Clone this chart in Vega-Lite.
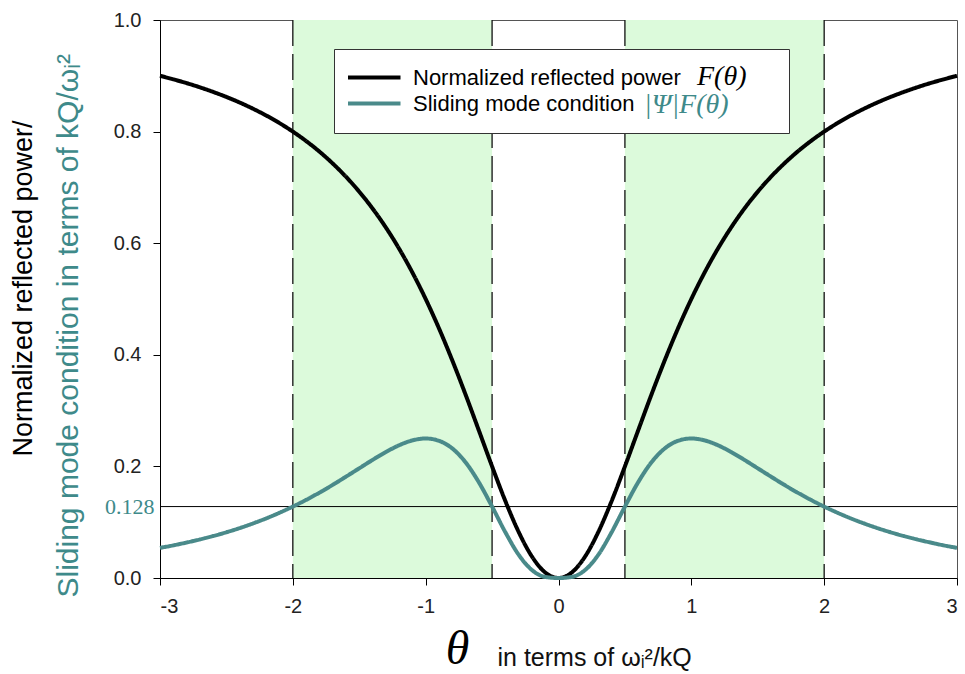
{
  "$schema": "https://vega.github.io/schema/vega-lite/v6.json",
  "width": 797,
  "height": 558,
  "autosize": {"type": "none"},
  "padding": {"left": 160, "top": 20, "right": 8, "bottom": 96},
  "background": "white",
  "config": {
    "view": {"stroke": "#555", "strokeWidth": 1},
    "axis": {
      "grid": false,
      "domainColor": "#000",
      "tickColor": "#000",
      "tickSize": 7,
      "labelFont": "Liberation Sans",
      "labelFontSize": 20,
      "labelColor": "#222",
      "titleFontWeight": "normal"
    }
  },
  "datasets": {
    "curves": [
      {"t": -3.0, "F": 0.9000, "G": 0.0540},
      {"t": -2.9, "F": 0.8937, "G": 0.0585},
      {"t": -2.8, "F": 0.8869, "G": 0.0636},
      {"t": -2.7, "F": 0.8794, "G": 0.0691},
      {"t": -2.6, "F": 0.8711, "G": 0.0752},
      {"t": -2.5, "F": 0.8621, "G": 0.0820},
      {"t": -2.4, "F": 0.8521, "G": 0.0895},
      {"t": -2.3, "F": 0.8410, "G": 0.0978},
      {"t": -2.2, "F": 0.8288, "G": 0.1069},
      {"t": -2.1, "F": 0.8152, "G": 0.1170},
      {"t": -2.0, "F": 0.8000, "G": 0.1280},
      {"t": -1.9, "F": 0.7831, "G": 0.1400},
      {"t": -1.8, "F": 0.7642, "G": 0.1530},
      {"t": -1.7, "F": 0.7429, "G": 0.1669},
      {"t": -1.6, "F": 0.7191, "G": 0.1816},
      {"t": -1.5, "F": 0.6923, "G": 0.1966},
      {"t": -1.4, "F": 0.6622, "G": 0.2116},
      {"t": -1.3, "F": 0.6283, "G": 0.2257},
      {"t": -1.2, "F": 0.5902, "G": 0.2379},
      {"t": -1.1, "F": 0.5475, "G": 0.2466},
      {"t": -1.0, "F": 0.5000, "G": 0.2500},
      {"t": -0.9, "F": 0.4475, "G": 0.2459},
      {"t": -0.8, "F": 0.3902, "G": 0.2322},
      {"t": -0.7, "F": 0.3289, "G": 0.2074},
      {"t": -0.6, "F": 0.2647, "G": 0.1717},
      {"t": -0.5, "F": 0.2000, "G": 0.1280},
      {"t": -0.4, "F": 0.1379, "G": 0.0820},
      {"t": -0.3, "F": 0.0826, "G": 0.0417},
      {"t": -0.2, "F": 0.0385, "G": 0.0142},
      {"t": -0.1, "F": 0.0099, "G": 0.0019},
      {"t": 0.0, "F": 0.0000, "G": 0.0000},
      {"t": 0.1, "F": 0.0099, "G": 0.0019},
      {"t": 0.2, "F": 0.0385, "G": 0.0142},
      {"t": 0.3, "F": 0.0826, "G": 0.0417},
      {"t": 0.4, "F": 0.1379, "G": 0.0820},
      {"t": 0.5, "F": 0.2000, "G": 0.1280},
      {"t": 0.6, "F": 0.2647, "G": 0.1717},
      {"t": 0.7, "F": 0.3289, "G": 0.2074},
      {"t": 0.8, "F": 0.3902, "G": 0.2322},
      {"t": 0.9, "F": 0.4475, "G": 0.2459},
      {"t": 1.0, "F": 0.5000, "G": 0.2500},
      {"t": 1.1, "F": 0.5475, "G": 0.2466},
      {"t": 1.2, "F": 0.5902, "G": 0.2379},
      {"t": 1.3, "F": 0.6283, "G": 0.2257},
      {"t": 1.4, "F": 0.6622, "G": 0.2116},
      {"t": 1.5, "F": 0.6923, "G": 0.1966},
      {"t": 1.6, "F": 0.7191, "G": 0.1816},
      {"t": 1.7, "F": 0.7429, "G": 0.1669},
      {"t": 1.8, "F": 0.7642, "G": 0.1530},
      {"t": 1.9, "F": 0.7831, "G": 0.1400},
      {"t": 2.0, "F": 0.8000, "G": 0.1280},
      {"t": 2.1, "F": 0.8152, "G": 0.1170},
      {"t": 2.2, "F": 0.8288, "G": 0.1069},
      {"t": 2.3, "F": 0.8410, "G": 0.0978},
      {"t": 2.4, "F": 0.8521, "G": 0.0895},
      {"t": 2.5, "F": 0.8621, "G": 0.0820},
      {"t": 2.6, "F": 0.8711, "G": 0.0752},
      {"t": 2.7, "F": 0.8794, "G": 0.0691},
      {"t": 2.8, "F": 0.8869, "G": 0.0636},
      {"t": 2.9, "F": 0.8937, "G": 0.0585},
      {"t": 3.0, "F": 0.9000, "G": 0.0540}
    ]
  },
  "layer": [
    {
      "data": {"values": [{"a": -2, "b": -0.5}, {"a": 0.5, "b": 2}]},
      "mark": {"type": "rect", "color": "#dcfadb"},
      "encoding": {
        "x": {"field": "a", "type": "quantitative", "scale": {"domain": [-3, 3], "nice": false, "zero": false}, "axis": null},
        "x2": {"field": "b"}
      }
    },
    {
      "data": {"values": [{"v": -2}, {"v": -0.5}, {"v": 0.5}, {"v": 2}]},
      "mark": {"type": "rule", "color": "#111", "strokeWidth": 1.3, "strokeDash": [26, 8]},
      "encoding": {
        "x": {
          "field": "v",
          "type": "quantitative",
          "axis": {
            "orient": "top",
            "domain": false,
            "ticks": false,
            "labels": false,
            "title": "in terms of  ωᵢ²/kQ",
            "titleFont": "Liberation Sans",
            "titleFontSize": 25,
            "titleColor": "#111",
            "titleAlign": "left",
            "titleBaseline": "alphabetic",
            "titleX": 337,
            "titleY": 645
          }
        }
      }
    },
    {
      "data": {"values": [{"h": 0.128}]},
      "mark": {"type": "rule", "color": "#000", "strokeWidth": 1},
      "encoding": {
        "y": {
          "field": "h",
          "type": "quantitative",
          "axis": {
            "orient": "right",
            "domain": false,
            "ticks": false,
            "labels": false,
            "title": "Normalized reflected power/",
            "titleFont": "Liberation Sans",
            "titleFontSize": 27,
            "titleColor": "#000",
            "titleAngle": -90,
            "titleAlign": "center",
            "titleBaseline": "middle",
            "titleX": -934,
            "titleY": 268
          }
        }
      }
    },
    {
      "data": {"name": "curves"},
      "transform": [{"fold": ["F", "G"], "as": ["series", "value"]}],
      "mark": {"type": "line", "strokeWidth": 4, "interpolate": "monotone"},
      "encoding": {
        "x": {
          "field": "t",
          "type": "quantitative",
          "scale": {"domain": [-3, 3], "nice": false, "zero": false},
          "axis": {
            "orient": "bottom",
            "values": [-3, -2, -1, 0, 1, 2, 3],
            "labelExpr": "toString(datum.value)",
            "labelPadding": 11,
            "title": "θ",
            "titleFont": "Liberation Serif",
            "titleFontStyle": "italic",
            "titleFontSize": 48,
            "titleColor": "#000",
            "titleAlign": "center",
            "titleBaseline": "bottom",
            "titleX": 297,
            "titleY": 95
          }
        },
        "y": {
          "field": "value",
          "type": "quantitative",
          "scale": {"domain": [0, 1], "nice": false},
          "axis": {
            "orient": "left",
            "values": [0, 0.128, 0.2, 0.4, 0.6, 0.8, 1.0],
            "labelExpr": "datum.value == 0.128 ? '0.128' : format(datum.value, '.1f')",
            "labelPadding": {"condition": {"test": "datum.value == 0.128", "value": 6}, "value": 12},
            "labelColor": {"condition": {"test": "datum.value == 0.128", "value": "#3e8a8a"}, "value": "#222"},
            "labelFont": {"condition": {"test": "datum.value == 0.128", "value": "Liberation Serif"}, "value": "Liberation Sans"},
            "labelFontSize": {"condition": {"test": "datum.value == 0.128", "value": 22}, "value": 20},
            "tickSize": {"condition": {"test": "datum.value == 0.128", "value": 0}, "value": 7},
            "title": "Sliding mode condition in terms of  kQ/ωᵢ²",
            "titleFont": "Liberation Sans",
            "titleFontSize": 30,
            "titleColor": "#3e8a8a",
            "titleAngle": -90,
            "titleAlign": "left",
            "titleBaseline": "middle",
            "titleX": -92,
            "titleY": 577
          }
        },
        "color": {
          "field": "series",
          "type": "nominal",
          "scale": {"domain": ["F", "G"], "range": ["#000000", "#4a8a8a"]},
          "legend": {
            "orient": "none",
            "legendX": 186,
            "legendY": 45,
            "zindex": 2,
            "title": null,
            "labelExpr": "datum.value == 'F' ? 'Normalized reflected power' : 'Sliding mode condition'",
            "symbolType": "M-1,0H4",
            "symbolSize": 441,
            "symbolStrokeWidth": 4,
            "labelFont": "Liberation Sans",
            "labelFontSize": 22,
            "labelColor": "#000",
            "labelLimit": 600,
            "labelOffset": 42,
            "rowPadding": 2,
            "padding": 0
          }
        },
        "strokeDash": {
          "field": "series",
          "type": "nominal",
          "scale": {"domain": ["F", "G", "H"], "range": [[1, 0], [1, 0], [1, 0]]},
          "legend": {
            "orient": "none",
            "legendX": 174,
            "legendY": 29,
            "zindex": 1,
            "title": null,
            "values": ["F", "G"],
            "labelExpr": "datum.value == 'F' ? 'F(θ)\u00a0\u00a0\u00a0\u00a0\u200b' : '|Ψ|F(θ)'",
            "symbolType": "stroke",
            "symbolSize": 1,
            "symbolOpacity": 0,
            "labelFont": "Liberation Serif",
            "labelFontStyle": "italic",
            "labelFontSize": 28,
            "labelColor": {"expr": "datum.value == 'G' ? '#3e8a8a' : '#000'"},
            "labelLimit": 300,
            "labelOffset": {"expr": "datum.value == 'F' ? 321 : 268"},
            "rowPadding": -1,
            "padding": 14,
            "strokeColor": "#333",
            "fillColor": "white"
          }
        }
      }
    }
  ],
  "resolve": {"axis": {"x": "independent", "y": "independent"}}
}
